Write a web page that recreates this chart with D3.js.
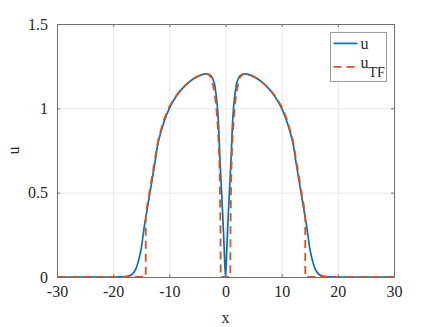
<!DOCTYPE html>
<html>
<head>
<meta charset="utf-8">
<script src="https://cdn.jsdelivr.net/npm/d3@7"></script>
<style>
  body { margin: 0; background: #fff; }
  text { font-family: "Liberation Serif", "Times New Roman", serif; fill: #262626; }
</style>
</head>
<body>
<div class="plot"></div>
<script>
// values
var uX = [-30, -20, -19, -18, -17, -16.5, -16, -15.5, -15, -14.5, -14, -13.5, -13, -12.5, -12, -11, -10, -9, -8, -7, -6, -5, -4, -3.5, -3, -2.5, -2, -1.75, -1.5, -1.25, -1, -0.75, -0.5, -0.25, 0,
  0.25, 0.5, 0.75, 1, 1.25, 1.5, 1.75, 2, 2.5, 3, 3.5, 4, 5, 6, 7, 8, 9, 10, 11, 12, 12.5, 13, 13.5, 14, 14.5, 15, 15.5, 16, 16.5, 17, 18, 19, 20, 30];
var uY = [0, 0, 0.001, 0.002, 0.008, 0.02, 0.045, 0.095, 0.17, 0.29, 0.39, 0.49, 0.59, 0.69, 0.795, 0.915, 1.0, 1.06, 1.105, 1.14, 1.168, 1.188, 1.201, 1.204, 1.202, 1.19, 1.15, 1.10, 1.03, 0.91, 0.71, 0.54, 0.37, 0.18, 0,
  0.18, 0.37, 0.54, 0.71, 0.91, 1.03, 1.10, 1.15, 1.19, 1.202, 1.204, 1.201, 1.188, 1.168, 1.14, 1.105, 1.06, 1.0, 0.915, 0.795, 0.69, 0.59, 0.49, 0.39, 0.29, 0.17, 0.095, 0.045, 0.02, 0.008, 0.002, 0.001, 0, 0];

var tfX = [-30, -14.2, -14.2, -14, -13.5, -13, -12.5, -12, -11, -10, -9, -8, -7, -6, -5, -4, -3.5, -3, -2.5, -2, -1.7, -1.4, -1.2, -1.1, -1, -0.9, -0.85, -0.85,
  0.85, 0.85, 0.9, 1, 1.1, 1.2, 1.4, 1.7, 2, 2.5, 3, 3.5, 4, 5, 6, 7, 8, 9, 10, 11, 12, 12.5, 13, 13.5, 14, 14.2, 14.2, 30];
var tfY = [0, 0, 0.357, 0.41, 0.51, 0.61, 0.71, 0.81, 0.93, 1.01, 1.065, 1.108, 1.142, 1.17, 1.19, 1.202, 1.205, 1.2, 1.18, 1.10, 1.03, 0.90, 0.78, 0.69, 0.55, 0.3, 0, 0,
  0, 0, 0.3, 0.55, 0.69, 0.78, 0.90, 1.03, 1.10, 1.18, 1.2, 1.205, 1.202, 1.19, 1.17, 1.142, 1.108, 1.065, 1.01, 0.93, 0.81, 0.71, 0.61, 0.51, 0.41, 0.357, 0, 0];

var xTicks = [-30, -20, -10, 0, 10, 20, 30];
var yTicks = [0, 0.5, 1, 1.5];

var margin = { top: 24, right: 42, bottom: 50, left: 57 };
var width = 436 - margin.left - margin.right;
var height = 327 - margin.top - margin.bottom;

var svg = d3.select(".plot").append("svg")
  .attr("width", 436)
  .attr("height", 327);

var chart = svg.append("g")
  .attr("transform", `translate(${margin.left},${margin.top})`);

var xScale = d3.scaleLinear().domain([-30, 30]).range([0, width]);
var yScale = d3.scaleLinear().domain([0, 1.5]).range([height, 0]);

// grid
chart.append("g")
  .call(d3.axisLeft(yScale).tickValues(yTicks).tickSize(-width).tickFormat(""))
  .call(g => g.select(".domain").remove())
  .selectAll("line").attr("stroke", "#e8e8e8");
chart.append("g")
  .call(d3.axisTop(xScale).tickValues(xTicks).tickSize(-height).tickFormat(""))
  .call(g => g.select(".domain").remove())
  .selectAll("line").attr("stroke", "#e8e8e8");

var uData = uX.map((x, i) => ({ x: x, y: uY[i] }));
var tfData = tfX.map((x, i) => ({ x: x, y: tfY[i] }));

var line = d3.line()
  .x(d => xScale(d.x))
  .y(d => yScale(d.y));

chart.append("path")
  .datum(uData)
  .attr("fill", "none")
  .attr("stroke", "#0072BD")
  .attr("stroke-width", 1.7)
  .attr("d", line.curve(d3.curveCatmullRom.alpha(0.5)));

chart.append("path")
  .datum(tfData)
  .attr("fill", "none")
  .attr("stroke", "#D95319")
  .attr("stroke-width", 1.8)
  .attr("stroke-dasharray", "8,5")
  .attr("d", line.curve(d3.curveLinear));

// axes (box)
var axisColor = "#707070";
function styleAxis(g) {
  g.select(".domain").attr("stroke", axisColor);
  g.selectAll(".tick line").attr("stroke", axisColor);
  g.selectAll(".tick text")
    .attr("font-size", 16)
    .attr("fill", "#262626")
    .style("font-family", "'Liberation Serif', serif");
}

chart.append("g")
  .attr("transform", `translate(0,${height})`)
  .call(d3.axisBottom(xScale).tickValues(xTicks).tickSizeInner(-3).tickSizeOuter(0).tickPadding(9).tickFormat(d => String(d)))
  .call(styleAxis);
chart.append("g")
  .call(d3.axisTop(xScale).tickValues(xTicks).tickSizeInner(-3).tickSizeOuter(0).tickFormat(""))
  .call(styleAxis);
chart.append("g")
  .call(d3.axisLeft(yScale).tickValues(yTicks).tickSizeInner(-3).tickSizeOuter(0).tickPadding(9).tickFormat(d => String(d)))
  .call(styleAxis);
chart.append("g")
  .attr("transform", `translate(${width},0)`)
  .call(d3.axisRight(yScale).tickValues(yTicks).tickSizeInner(-3).tickSizeOuter(0).tickFormat(""))
  .call(styleAxis);

// axis labels
chart.append("text")
  .attr("x", width / 2)
  .attr("y", height + 46)
  .attr("text-anchor", "middle")
  .attr("font-size", 16)
  .text("x");
chart.append("text")
  .attr("transform", `translate(-38,${height / 2}) rotate(-90)`)
  .attr("text-anchor", "middle")
  .attr("font-size", 16)
  .text("u");

// legend
var legend = chart.append("g")
  .attr("transform", `translate(${xScale(18.7)},${yScale(1.45)})`);
legend.append("rect")
  .attr("width", 56)
  .attr("height", 49)
  .attr("fill", "#fff")
  .attr("stroke", "#9a9a9a");
legend.append("line")
  .attr("x1", 3).attr("x2", 27).attr("y1", 11).attr("y2", 11)
  .attr("stroke", "#0072BD").attr("stroke-width", 1.7);
legend.append("line")
  .attr("x1", 3).attr("x2", 27).attr("y1", 34.5).attr("y2", 34.5)
  .attr("stroke", "#D95319").attr("stroke-width", 1.8).attr("stroke-dasharray", "8,5");
legend.append("text")
  .attr("x", 30).attr("y", 17)
  .attr("font-size", 16)
  .text("u");
var tfLabel = legend.append("text")
  .attr("x", 30).attr("y", 36)
  .attr("font-size", 16)
  .text("u");
tfLabel.append("tspan")
  .attr("dy", 9)
  .attr("font-size", 14)
  .text("TF");
</script>
</body>
</html>
